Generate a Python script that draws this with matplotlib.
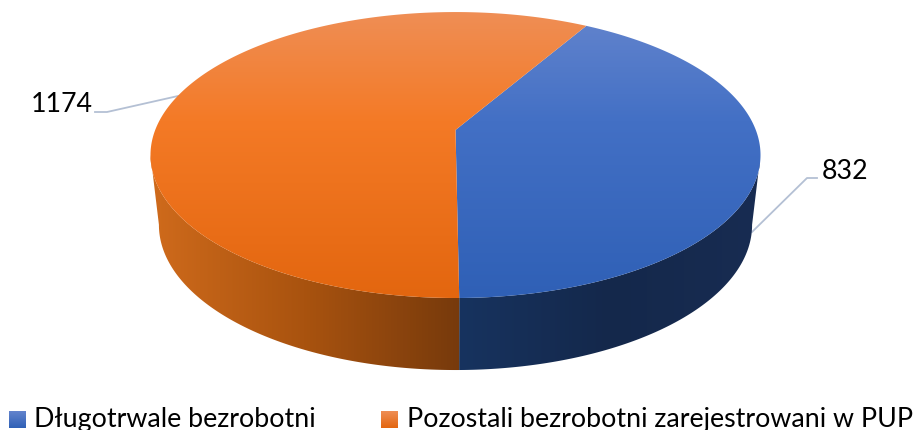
import numpy as np
import matplotlib
matplotlib.use("Agg")
import matplotlib.pyplot as plt
from matplotlib.patches import Polygon
from matplotlib.colors import LinearSegmentedColormap as LSC

categories = ["Długotrwale bezrobotni", "Pozostali bezrobotni zarejestrowani w PUP"]
values = [832, 1174]
value_labels = ["832", "1174"]

plt.rcParams['font.family'] = ['Lato', 'DejaVu Sans']
fig = plt.figure(figsize=(9.17, 4.30), dpi=100)
ax = fig.add_axes([0, 0, 1, 1])

# the library computes the slice angles from the data
wedges, _ = ax.pie(values, startangle=59.9, counterclock=False)
angles = [(w.theta1, w.theta2) for w in wedges]
for w in wedges:
    w.remove()
ax.set_aspect('auto')

K = 0.175
def rim(t_deg, a, b, cx, cy):
    t = np.radians(t_deg)
    w = 1 + K * np.sin(t)
    return cx + a * np.cos(t) / w, cy - b * np.sin(t) / w

TOP = (300.3, 138.6, 455.5, 130.0)
LOW = (292.0, 140.6, 455.5, 199.6)

def grad(poly_xy, colors, extent, vertical=True, z=1):
    n = 256
    g = np.linspace(0, 1, n)
    g = g[:, None] if vertical else g[None, :]
    cmap = LSC.from_list('g', colors)
    im = ax.imshow(g, cmap=cmap, extent=extent, aspect='auto', origin='upper',
                   zorder=z, interpolation='bilinear')
    if poly_xy is not None:
        p = Polygon(poly_xy, closed=True, transform=ax.transData, fc='none', ec='none')
        ax.add_patch(p)
        im.set_clip_path(p)
    return im

top_colors = [[(0, "#6384cd"), (0.38, "#4370c5"), (1, "#2f60b6")],
              [(0, "#ef8e55"), (0.38, "#f47a26"), (1, "#e3660f")]]
swatch_colors = [["#6384cd", "#2f60b6"], ["#ef8e55", "#e3660f"]]
side_colors = [["#17335f", "#14284b", "#182c52"], ["#d06b1c", "#a9530f", "#773a0c"]]

# sides: only the front part, between the two silhouette points of the rim
FRONT = (-170.0, -10.0)
for i, (t1, t2) in enumerate(angles):
    a1, a2 = min(t1, t2), max(t1, t2)
    ts = np.linspace(max(a1, FRONT[0]), min(a2, FRONT[1]), 200)
    xt, yt = rim(ts, *TOP)
    xl, yl = rim(ts, *LOW)
    poly = np.column_stack([np.r_[xt, xl[::-1]], np.r_[yt, yl[::-1]]])
    ext = (459, 760, 372, 100) if i == 0 else (148, 460, 372, 100)
    grad(poly, side_colors[i], ext, vertical=False, z=1)

# top faces
for i, (t1, t2) in enumerate(angles):
    ts = np.linspace(t1, t2, 400)
    x, y = rim(ts, *TOP)
    poly = np.column_stack([np.r_[TOP[2], x], np.r_[TOP[3], y]])
    grad(poly, top_colors[i], (140, 770, 298, 12), z=2 + i)

# leader lines
line_c = "#b4c0d4"
ax.plot([752, 807, 817], [232, 178, 178], color=line_c, lw=1.3, zorder=0.5)
ax.plot([178, 107, 95], [96, 112, 112], color=line_c, lw=1.3, zorder=0.5)

ax.text(822, 179, value_labels[0], ha='left', va='baseline', fontsize=19.25, color='black')
ax.text(31, 112, value_labels[1], ha='left', va='baseline', fontsize=19.25, color='black')

# legend
leg_x = [(9, 26, 34), (381, 398, 407)]
for i, (x0, x1, xt) in enumerate(leg_x):
    grad(None, swatch_colors[i], (x0, x1, 428, 411), z=5)
    ax.text(xt, 427, categories[i], ha='left', va='baseline', fontsize=19.25, color='black', zorder=6)

ax.set_xlim(0, 917)
ax.set_ylim(430, 0)
ax.set_xticks([])
ax.set_yticks([])
ax.set_frame_on(False)
fig.savefig("out.png", dpi=100)
